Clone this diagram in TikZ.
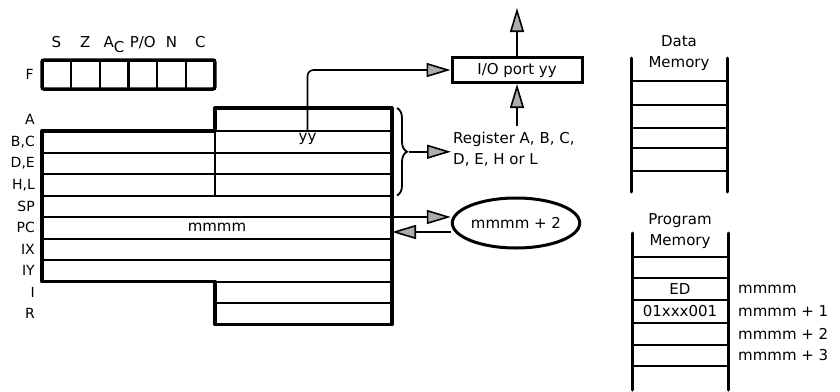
\documentclass[tikz,border=0pt]{standalone}
\usepackage{fontspec}
\setmainfont{DejaVu Sans}
\usepackage{tikz}
\usetikzlibrary{arrows.meta,positioning,calc,decorations.pathreplacing,shapes.geometric}

\tikzset{
  txt/.style={font=\fontsize{15}{21}\selectfont, inner sep=2pt},
  reglab/.style={font=\fontsize{14}{15}\selectfont, anchor=east, inner sep=0pt},
  cell/.style={draw, line width=2pt, inner sep=0pt, outer sep=0pt, minimum height=21.5pt},
  half/.style={cell, minimum width=173pt, anchor=north west},
  halfr/.style={cell, minimum width=177pt, anchor=north west},
  full/.style={cell, minimum width=350pt, anchor=north west},
  flag/.style={draw, line width=2.2pt, inner sep=0pt, outer sep=0pt, minimum width=28.8pt, minimum height=29pt, anchor=north west},
  arr/.style={line width=1.6pt, -{Triangle[length=24pt,width=14pt,fill=gray!65]}},
  rail/.style={line width=3pt, line cap=round},
  rung/.style={line width=2pt}
}

\begin{document}
\begin{tikzpicture}[x=1pt, y=-1pt]
  \useasboundingbox (0,0) rectangle (840,391);

  % flag register
  \foreach \t [count=\i] in {S,Z,A\raisebox{-5pt}{C},{P/O},N,C} {
    \node[flag] (f\i) at ({42+28.8*(\i-1)},60) {};
    \node[txt, anchor=base] (t\i) at ([yshift=13pt]f\i.north) {\t};
  }
  \draw[line width=3.5pt, rounded corners=2pt] (f1.north west) rectangle (f6.south east);
  \node[reglab, left=8pt of f1] (fl) {F};

  % register file
  \node[halfr, minimum height=23pt] (rA) at (215,108) {};
  \node[half] (lB) at (42,131) {};
  \node[halfr, right=0pt of lB] (rB) {};
  \node[half, below=0pt of lB] (lD) {};
  \node[halfr, right=0pt of lD] (rD) {};
  \node[half, below=0pt of lD] (lH) {};
  \node[halfr, right=0pt of lH] (rH) {};
  \node[full, below=0pt of lH.south west, anchor=north west] (sp) {};
  \node[full, below=0pt of sp] (pc) {};
  \node[full, below=0pt of pc] (ix) {};
  \node[full, below=0pt of ix] (iy) {};
  \node[halfr, below=0pt of iy.south east, anchor=north east] (rI) {};
  \node[halfr, below=0pt of rI] (rR) {};
  \draw[line width=3.2pt, line join=round] (lB.north west) -- (rA.south west) -- (rA.north west)
    -- (rA.north east) -- (rR.south east) -- (rR.south west) -- (rI.north west)
    -- (iy.south west) -- cycle;

  \coordinate (Aw) at (rA.west -| lB.west);
  \coordinate (Iw) at (rI.west -| iy.west);
  \coordinate (Rw) at (rR.west -| iy.west);
  \foreach \n/\t in {Aw/A, lB/{B,C}, lD/{D,E}, lH/{H,L}, sp/SP, pc/PC, ix/IX, iy/IY, Iw/I, Rw/R}
    \node[reglab, left=7pt of \n] (lab\n) {\t};

  \node[txt] (yy) at ($(rB.center)+(4,-3)$) {yy};
  \node[txt] (pcval) at (pc.center) {mmmm};

  % I/O port
  \node[txt, draw, line width=3pt, minimum width=130pt, minimum height=25pt, inner sep=0pt] (io) at (517,70) {I/O port yy};
  \coordinate (ioout) at (517,8);
  \coordinate (ioin) at (517,126);
  \draw[arr] (io.north) -- (ioout);
  \draw[arr] (ioin) -- (io.south);
  \draw[arr, rounded corners=6pt] (yy.north) |- (io.west);

  % destination register
  \draw[line width=1.8pt, decorate, decoration={brace, amplitude=10pt}]
    ([xshift=5pt]rA.north east) -- ([xshift=5pt]rH.south east);
  \coordinate (btip) at ($(rA.north east)!0.5!(rH.south east)+(17,0)$);
  \node[txt, align=left, anchor=west] (regs) at (451,149) {Register A, B, C,\\D, E, H or L};
  \draw[arr] (btip) -- (btip -| regs.west);

  % stack
  \node[txt, draw, ellipse, line width=3pt, fill=white, inner sep=0pt, minimum width=118pt, minimum height=50pt] (ret) at (516,223) {mmmm + 2};
  \draw[arr] (pc.north east) -- (pc.north east -| ret.west);
  \coordinate (back) at ($(ret.west)+(0,9)$);
  \draw[arr] (back) -- (back -| pc.east);

  % data memory
  \draw[rail] (631,58) -- (631,192) (727,58) -- (727,192);
  \foreach \y in {81,105,128,148,171}
    \draw[rung] (631,\y) -- (727,\y);
  \node[txt, align=center] (dmem) at (679,53) {Data\\Memory};

  % program memory
  \draw[rail] (632,233) -- (632,390) (728,233) -- (728,390);
  \foreach \y in {257,278,300,323,345,366}
    \draw[rung] (632,\y) -- (728,\y);
  \node[txt, align=center] (pmem) at (680,231) {Program\\Memory};
  \node[txt] (ed) at (680,289) {ED};
  \node[txt] (op) at (680,311.5) {01xxx001};
  \node[txt, anchor=west] (m0) at (736,289) {mmmm};
  \node[txt, anchor=west] (m1) at (736,311.5) {mmmm + 1};
  \node[txt, anchor=west] (m2) at (736,334) {mmmm + 2};
  \node[txt, anchor=west] (m3) at (736,355.5) {mmmm + 3};
\end{tikzpicture}
\end{document}
